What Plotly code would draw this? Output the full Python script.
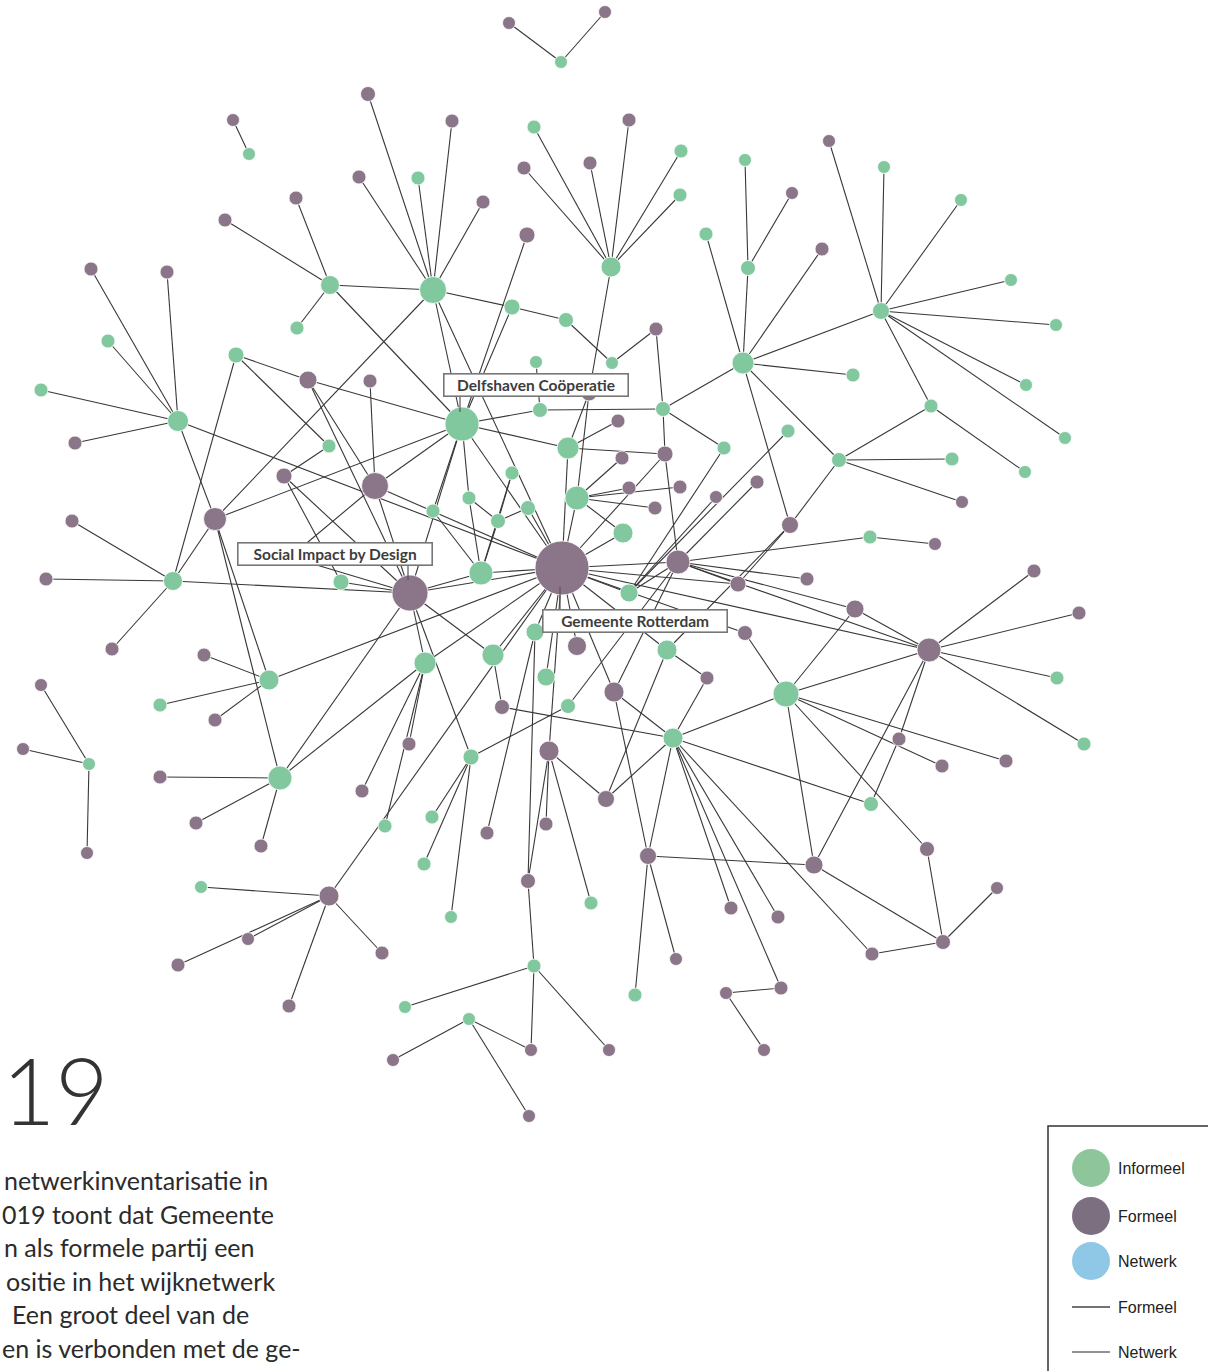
import plotly.graph_objects as go

# ---------------- network data (layout coordinates of the original drawing) ----------------
node_ids = [
    "GR", "SI", "DC", "HA", "HB", "HC", "HD", "HE", "HF", "HG",
    "HH", "HJ", "P375", "P215", "G178", "G173", "G269", "G280", "G89", "P329",
    "G577", "G481", "G568", "G623", "G629", "G493", "G425", "G667", "G535", "G546",
    "G568b", "G471", "P549", "P606", "P614", "P648", "P814", "P308", "P284", "P290",
    "P665", "P589", "P790", "P855", "P577", "P738", "P745", "P527", "G512", "G566",
    "G612", "P656", "G540", "G536", "G663", "G724", "G512b", "G528", "G498", "G469",
    "G433", "G329", "G341", "P618", "P622", "P629", "P680", "P655", "P716", "P757",
    "P807", "G870", "P935", "G788", "G839", "G931", "G952", "P962", "G1025", "G1065",
    "G1026", "G1056", "G1011", "G961", "G884", "P829", "G853", "G748", "G745", "P792",
    "P822", "G706", "G681", "G680", "P629t", "P590", "P524", "G534", "P368", "P359",
    "G418", "P452", "P483", "P296", "P225", "G297", "P233", "G249", "P509", "P605",
    "G561", "P370", "G236", "G108", "G41", "P91", "P167", "P75", "P72", "P46",
    "P112", "P204", "G160", "P215b", "P41", "P23", "P87", "P160", "P196", "P261",
    "P362", "P409", "G385", "G201", "P248", "P178", "P289", "P382", "G432", "G424",
    "G450", "P487", "P502", "P546", "P528", "G591", "G534b", "G405", "G469b", "P394",
    "P531", "P609", "P529", "G635", "P676", "P731", "P778", "P781", "P726", "P764",
    "G871", "P899", "P941", "P1006", "P926", "P943", "P997", "P871", "G1084", "G1057",
    "P1079", "P1034", "P706",
]
node_x = [
    562, 410, 462, 433, 330, 611, 743, 881, 678, 929,
    786, 673, 375, 215, 178, 173, 269, 280, 89, 329,
    577, 481, 568, 623, 629, 493, 425, 667, 535, 546,
    568, 471, 549, 606, 614, 648, 814, 308, 284, 290,
    665, 589, 790, 855, 577, 738, 745, 527, 512, 566,
    612, 656, 540, 536, 663, 724, 512, 528, 498, 469,
    433, 329, 341, 618, 622, 629, 680, 655, 716, 757,
    807, 870, 935, 788, 839, 931, 952, 962, 1025, 1065,
    1026, 1056, 1011, 961, 884, 829, 853, 748, 745, 792,
    822, 706, 681, 680, 629, 590, 524, 534, 368, 359,
    418, 452, 483, 296, 225, 297, 233, 249, 509, 605,
    561, 370, 236, 108, 41, 91, 167, 75, 72, 46,
    112, 204, 160, 215, 41, 23, 87, 160, 196, 261,
    362, 409, 385, 201, 248, 178, 289, 382, 432, 424,
    451, 487, 502, 546, 528, 591, 534, 405, 469, 393,
    531, 609, 529, 635, 676, 731, 778, 781, 726, 764,
    871, 899, 942, 1006, 927, 943, 997, 872, 1084, 1057,
    1079, 1034, 707,
]
node_y = [
    568, 593, 424, 290, 285, 267, 363, 311, 562, 650,
    694, 738, 486, 519, 421, 581, 680, 778, 764, 896,
    498, 573, 448, 533, 593, 655, 663, 650, 632, 677,
    706, 757, 751, 799, 692, 856, 865, 380, 476, 557,
    454, 393, 525, 609, 646, 584, 633, 235, 307, 320,
    363, 329, 410, 362, 409, 448, 473, 508, 521, 498,
    511, 446, 582, 421, 458, 488, 487, 508, 497, 482,
    579, 537, 544, 431, 460, 406, 459, 502, 472, 438,
    385, 325, 280, 200, 167, 141, 375, 268, 160, 193,
    249, 234, 151, 195, 120, 163, 168, 127, 94, 177,
    178, 121, 202, 198, 220, 328, 120, 154, 23, 12,
    62, 381, 355, 341, 390, 269, 272, 443, 521, 579,
    649, 655, 705, 720, 685, 749, 853, 777, 823, 846,
    791, 744, 826, 887, 939, 965, 1006, 953, 817, 864,
    917, 833, 707, 824, 881, 903, 966, 1007, 1019, 1060,
    1050, 1050, 1116, 995, 959, 908, 917, 988, 993, 1050,
    804, 739, 766, 761, 849, 942, 888, 954, 744, 678,
    613, 571, 678,
]
# I = informeel, F = formeel
node_kind = [
    "F", "F", "I", "I", "I", "I", "I", "I", "F", "F",
    "I", "I", "F", "F", "I", "I", "I", "I", "I", "F",
    "I", "I", "I", "I", "I", "I", "I", "I", "I", "I",
    "I", "I", "F", "F", "F", "F", "F", "F", "F", "F",
    "F", "F", "F", "F", "F", "F", "F", "F", "I", "I",
    "I", "F", "I", "I", "I", "I", "I", "I", "I", "I",
    "I", "I", "I", "F", "F", "F", "F", "F", "F", "F",
    "F", "I", "F", "I", "I", "I", "I", "F", "I", "I",
    "I", "I", "I", "I", "I", "F", "I", "I", "I", "F",
    "F", "I", "I", "I", "F", "F", "F", "I", "F", "F",
    "I", "F", "F", "F", "F", "I", "F", "I", "F", "F",
    "I", "F", "I", "I", "I", "F", "F", "F", "F", "F",
    "F", "F", "I", "F", "F", "F", "F", "F", "F", "F",
    "F", "F", "I", "I", "F", "F", "F", "F", "I", "I",
    "I", "F", "F", "F", "F", "I", "I", "I", "I", "F",
    "F", "F", "F", "I", "F", "F", "F", "F", "F", "F",
    "I", "F", "F", "F", "F", "F", "F", "F", "I", "I",
    "F", "F", "F",
]
# node weight (drawn diameter)
node_weight = [
    54, 36, 34, 27, 19, 20, 22, 17, 24, 24,
    26, 20, 27, 23, 21, 19, 20, 24, 13, 20,
    24, 24, 22, 20, 18, 22, 22, 20, 18, 18,
    15, 16, 20, 17, 20, 17, 18, 18, 16, 16,
    16, 16, 17, 18, 19, 16, 15, 16, 16, 15,
    13, 14, 15, 13, 15, 14, 14, 15, 15, 14,
    14, 14, 16, 14, 14, 14, 14, 14, 13, 14,
    14, 14, 13, 14, 15, 14, 14, 13, 13, 13,
    13, 13, 13, 13, 13, 13, 14, 15, 13, 13,
    14, 14, 14, 14, 14, 14, 14, 14, 15, 14,
    14, 14, 14, 14, 14, 14, 13, 13, 13, 13,
    13, 14, 16, 14, 14, 14, 14, 14, 14, 14,
    14, 14, 14, 14, 13, 13, 13, 14, 14, 14,
    14, 14, 14, 13, 13, 14, 14, 14, 14, 14,
    13, 14, 15, 14, 15, 14, 14, 13, 13, 13,
    13, 13, 13, 14, 13, 14, 14, 14, 13, 13,
    15, 14, 14, 14, 15, 15, 13, 14, 14, 14,
    14, 14, 14,
]

edges = [
    "P509-G561", "P605-G561", "P233-G249",
    "HA-P368", "HA-P359", "HA-G418", "HA-P452", "HA-P483", "HA-HB", "HA-G512", "HA-P215", "HA-DC", "HA-GR",
    "HB-P296", "HB-P225", "HB-G297", "HB-DC",
    "G512-G566", "G512-DC", "G566-G612", "G612-P656", "P656-G663", "P527-DC",
    "HC-G534", "HC-P524", "HC-P590", "HC-P629t", "HC-G681", "HC-G680", "HC-P589",
    "G536-G540", "G540-DC", "G540-G663",
    "DC-G568", "DC-P308", "DC-P215", "DC-SI", "DC-P375", "DC-GR", "DC-G433", "DC-G469",
    "G512b-G498", "G528-G498", "G469-G498", "G498-G481", "G512b-G481", "G433-G481", "G469-G481", "G528-GR",
    "G481-SI", "G481-GR",
    "G568-P618", "G568-P665", "G568-GR", "G568-P589", "P589-G577",
    "G577-P622", "G577-P629", "G577-P680", "G577-P655", "G577-G623", "G577-GR",
    "P665-G663", "P665-HF", "P665-GR", "G663-G724", "G663-HD",
    "G724-G629", "G788-G629", "P716-G629", "P757-HF", "G623-GR",
    "HF-GR", "HF-P807", "HF-G870", "HF-P855", "HF-HG", "HF-G629", "HF-P738", "HF-P614", "HF-G568b",
    "G870-P935", "P855-HG", "P855-HH",
    "HG-P1034", "HG-P1079", "HG-G1057", "HG-G1084", "HG-HH", "HG-GR", "HG-P899", "HG-P814",
    "P899-G871",
    "HH-P745", "HH-P1006", "HH-P941", "HH-P814", "HH-P926", "HH-HJ",
    "P790-HD", "P790-G839", "P790-P738", "P790-G667",
    "G839-HD", "G839-G931", "G839-G952", "G839-P962", "G931-HE", "G931-G1025",
    "HE-HD", "HE-P829", "HE-G884", "HE-G961", "HE-G1011", "HE-G1056", "HE-G1026", "HE-G1065",
    "G748-HD", "G748-G745", "G748-P792", "HD-P822", "HD-G706", "HD-G853",
    "HJ-G871", "HJ-P502", "HJ-P606", "HJ-P648", "HJ-P706", "HJ-P731", "HJ-P778", "HJ-P781", "HJ-P871", "HJ-P614",
    "P706-G667", "G667-P606", "G667-GR",
    "P606-P549", "P648-P614", "P648-G635", "P648-P676", "P648-P814",
    "P814-P943", "P926-P943", "P943-P997", "P943-P871", "P781-P726", "P726-P764",
    "P549-P528", "P549-P546", "P549-G591", "P549-GR",
    "G535-GR", "G535-P487", "G535-P528",
    "P528-G534b", "G534b-G405", "G534b-P531", "G534b-P609",
    "G469b-P394", "G469b-P531", "G469b-P529",
    "G546-GR", "P577-GR", "G568b-G471",
    "G471-SI", "G471-G432", "G471-G424", "G471-G450",
    "P502-G493", "G493-SI", "G493-GR",
    "G425-SI", "G425-GR", "G425-P362", "G425-P409", "G425-G385", "G425-G280",
    "P329-GR", "P329-G201", "P329-P248", "P329-P178", "P329-P289", "P329-P382",
    "G280-P160", "G280-P196", "G280-P261", "G280-P215", "G280-SI",
    "G269-P204", "G269-G160", "G269-P215b", "G269-P215", "G269-GR",
    "G89-P41", "G89-P23", "G89-P87",
    "P215-G173", "P215-G178",
    "G173-P72", "G173-P46", "G173-P112", "G173-G236", "G173-SI",
    "G178-P91", "G178-P167", "G178-G108", "G178-G41", "G178-P75", "G178-GR",
    "G236-G329", "G236-P308", "P308-P375", "P308-SI", "P370-P375",
    "P284-G329", "P284-SI", "P284-G341", "P290-P375", "P290-SI", "G341-SI",
    "P375-GR", "P375-SI", "SI-GR",
    "GR-P738", "GR-P745", "GR-G629", "GR-P614",
]

labels = {"DC": "Delfshaven Coöperatie", "SI": "Social Impact by Design", "GR": "Gemeente Rotterdam"}

legend_names = ["Informeel", "Formeel", "Netwerk"]
legend_line_names = ["Formeel", "Netwerk"]

year_text = "19"
body_lines = [
    "netwerkinventarisatie in",
    "019 toont dat Gemeente",
    "n als formele partij een",
    "ositie in het wijknetwerk",
    "Een groot deel van de",
    "en is verbonden met de ge-",
]

# ---------------- styling ----------------
W, H = 1208, 1371
GREEN = "#82C89F"
PURPLE = "#8B7589"
EDGE = "#383838"

idx = {n: i for i, n in enumerate(node_ids)}

ex, ey = [], []
for e in edges:
    a, b = e.split("-")
    ia, ib = idx[a], idx[b]
    ex += [node_x[ia], node_x[ib], None]
    ey += [node_y[ia], node_y[ib], None]

fig = go.Figure()
fig.add_trace(go.Scatter(x=ex, y=ey, mode="lines", line=dict(color=EDGE, width=1.1),
                         hoverinfo="skip", showlegend=False))

order = sorted(range(len(node_ids)), key=lambda i: node_weight[i])
fig.add_trace(go.Scatter(
    x=[node_x[i] for i in order], y=[node_y[i] for i in order], mode="markers",
    marker=dict(size=[node_weight[i] for i in order],
                color=[GREEN if node_kind[i] == "I" else PURPLE for i in order],
                line=dict(color="white", width=0.8), opacity=1),
    text=[node_ids[i] for i in order], hoverinfo="text", showlegend=False))


def px(x):
    return x / W


def py(y):
    return 1 - y / H


annotations = []
shapes = []

# node labels (boxes with a short leader to the node)
label_geom = {  # dx of box left from node, dy of box top from node, box width
    "DC": (-19, -51, 185),
    "SI": (-173, -51, 195),
    "GR": (-20, 41, 185),
}
for key, text in labels.items():
    i = idx[key]
    dx, dy, bw = label_geom[key]
    bx, by = node_x[i] + dx, node_y[i] + dy
    r = node_weight[i] / 2
    if dy < 0:
        y0, y1 = node_y[i] - r + 5, by + 22
    else:
        y0, y1 = node_y[i] + r - 8, by
    shapes.append(dict(type="line", xref="x", yref="y", x0=node_x[i] - 2, x1=node_x[i] - 2,
                       y0=y0, y1=y1, line=dict(color="#555", width=1.2), layer="above"))
    annotations.append(dict(
        xref="x", yref="y", x=bx, y=by, xanchor="left", yanchor="top",
        text="<b>" + text + "</b>", showarrow=False, width=bw - 5, height=18,
        align="center", valign="middle", bgcolor="white", bordercolor="#777777",
        borderwidth=1.6, borderpad=1.5,
        font=dict(family="Lato", size=15.5, color="#3d3d3d")))

# big year text and paragraph
annotations.append(dict(xref="paper", yref="paper", x=px(0), y=py(1089), xanchor="left",
                        yanchor="middle", text=year_text, showarrow=False,
                        font=dict(family="Lato", size=92, color="#333333", weight=300)))
line_x = [2, 0, 2, 4, 10, 0]
for k, t in enumerate(body_lines):
    annotations.append(dict(xref="paper", yref="paper", x=px(line_x[k]), y=py(1180 + 33.5 * k),
                            xanchor="left", yanchor="middle", text=t, showarrow=False,
                            font=dict(family="Lato", size=25, color="#2b2b2b")))

# legend box
shapes.append(dict(type="rect", xref="x", yref="y", x0=1048, x1=1230, y0=1126, y1=1400,
                   line=dict(color="#333", width=1.5), fillcolor="white", layer="above"))
leg_colors = ["#8EC59A", "#7C6F80", "#8EC8E6"]
leg_y = [1168, 1216, 1261]
for k, name in enumerate(legend_names):
    shapes.append(dict(type="circle", xref="x", yref="y", x0=1072, x1=1110,
                       y0=leg_y[k] - 19, y1=leg_y[k] + 19, fillcolor=leg_colors[k],
                       line=dict(width=0), layer="above"))
    annotations.append(dict(xref="x", yref="y", x=1116, y=leg_y[k], xanchor="left",
                            yanchor="middle", text=name, showarrow=False,
                            font=dict(family="Liberation Sans", size=16, color="#222")))
leg_line_y = [1307, 1352]
leg_line_col = ["#444444", "#6f6f6f"]
for k, name in enumerate(legend_line_names):
    shapes.append(dict(type="line", xref="x", yref="y", x0=1072, x1=1110,
                       y0=leg_line_y[k], y1=leg_line_y[k],
                       line=dict(color=leg_line_col[k], width=1.3), layer="above"))
    annotations.append(dict(xref="x", yref="y", x=1116, y=leg_line_y[k], xanchor="left",
                            yanchor="middle", text=name, showarrow=False,
                            font=dict(family="Liberation Sans", size=16, color="#222")))

fig.update_layout(
    width=W, height=H, margin=dict(l=0, r=0, t=0, b=0),
    paper_bgcolor="white", plot_bgcolor="white", showlegend=False,
    xaxis=dict(range=[0, W], visible=False, fixedrange=True),
    yaxis=dict(range=[H, 0], visible=False, fixedrange=True),
    annotations=annotations, shapes=shapes, hovermode="closest",
)
fig.write_html(
    "out.html",
    config={"displayModeBar": False},
    post_script="document.body.style.margin='0px';document.body.style.overflow='hidden';",
)
